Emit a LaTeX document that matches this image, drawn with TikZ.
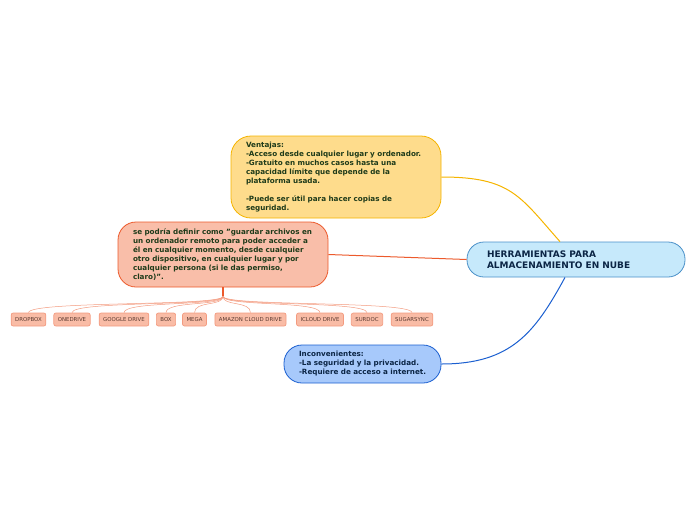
\documentclass[tikz,border=0pt]{standalone}
\usepackage{fontspec}
\setmainfont{DejaVu Sans}[BoldFont={DejaVu Sans Bold}]
\usepackage{tikz}
\usetikzlibrary{calc, positioning}
\definecolor{vfill}{HTML}{FEDC8C}
\definecolor{vline}{HTML}{F5B400}
\definecolor{dfill}{HTML}{F9BEA9}
\definecolor{dline}{HTML}{EC5A2C}
\definecolor{cfill}{HTML}{C6E9FB}
\definecolor{cline}{HTML}{4A90C8}
\definecolor{ifill}{HTML}{A7C9FB}
\definecolor{iline}{HTML}{1B5FD0}
\definecolor{sfill}{HTML}{F9BCA6}
\definecolor{sline}{HTML}{F39B80}
\definecolor{gtext}{HTML}{1F3B1A}
\definecolor{ntext}{HTML}{0B2545}
\definecolor{stext}{HTML}{5A3A30}

\begin{document}
\begin{tikzpicture}[x=1pt, y=-1pt,
	box/.style={rounded corners=17pt, line width=0.8pt, align=left, font=\fontsize{7.2}{9}\selectfont\bfseries, inner ysep=0pt},
	leaf/.style={rounded corners=2pt, fill=sfill, draw=sline, line width=0.7pt, minimum height=13pt, inner xsep=4pt, inner ysep=0pt, font=\fontsize{5.4}{5}\selectfont, text=stext},
	fanline/.style={draw=sline, line width=0.5pt}]
	\useasboundingbox (0,0) rectangle (696,520);
	% main topic and its branches
	\node[box, fill=cfill, draw=cline, text=ntext, minimum width=218pt, minimum height=35pt, text width=178pt, inner xsep=20pt, rounded corners=17pt, font=\fontsize{9}{11}\selectfont\bfseries] (herr) at (576,259.5) {HERRAMIENTAS PARA\\ALMACENAMIENTO EN NUBE};
	\node[box, fill=vfill, draw=vline, text=gtext, minimum width=210pt, minimum height=82pt, text width=180pt, inner xsep=15pt, rounded corners=20pt] (vent) at (336,177) {Ventajas:\\-Acceso desde cualquier lugar y ordenador.\\-Gratuito en muchos casos hasta una\\capacidad límite que depende de la\\plataforma usada.\\[9pt]-Puede ser útil para hacer copias de\\seguridad.};
	\node[box, fill=dfill, draw=dline, text=gtext, minimum width=210pt, minimum height=65pt, text width=180pt, inner xsep=15pt, rounded corners=18pt] (defi) at (223,254.5) {se podría definir como "guardar archivos en\\un ordenador remoto para poder acceder a\\él en cualquier momento, desde cualquier\\otro dispositivo, en cualquier lugar y por\\cualquier persona (si le das permiso,\\claro)".};
	\node[box, fill=ifill, draw=iline, text=ntext, minimum width=157pt, minimum height=38pt, text width=127pt, inner xsep=15pt, rounded corners=18pt] (inco) at (362.5,364) {Inconvenientes:\\\mbox{-La seguridad y la privacidad.}\\\mbox{-Requiere de acceso a internet.}};

	\draw[vline, line width=1pt] (vent.east) .. controls +(70,0) and +(-40,-45) .. ([xshift=-16pt]herr.north);
	\draw[dline, line width=1pt] (defi.east) -- (herr.west);
	\draw[iline, line width=1pt] ([xshift=-11pt]herr.south) .. controls +(-30,55) and +(70,0) .. (inco.east);

	% services
	\coordinate (fan) at ($(defi.south)+(0,9)$);
	\draw[dline, line width=1.2pt] (defi.south) -- (fan);
	\foreach \name/\xx/\txt in {drop/28.5/DROPBOX, oned/72/ONEDRIVE, goog/124/GOOGLE DRIVE, box/166/BOX, mega/194.5/MEGA, amaz/250.5/AMAZON CLOUD DRIVE, iclo/320/ICLOUD DRIVE, surd/367/SURDOC, suga/412/SUGARSYNC}{
		\node[leaf] (\name) at (\xx,319.5) {\txt};
		\draw[fanline] (fan) .. controls +(0,10) and +(0,-12) .. (\name.north);
	}
\end{tikzpicture}
\end{document}
